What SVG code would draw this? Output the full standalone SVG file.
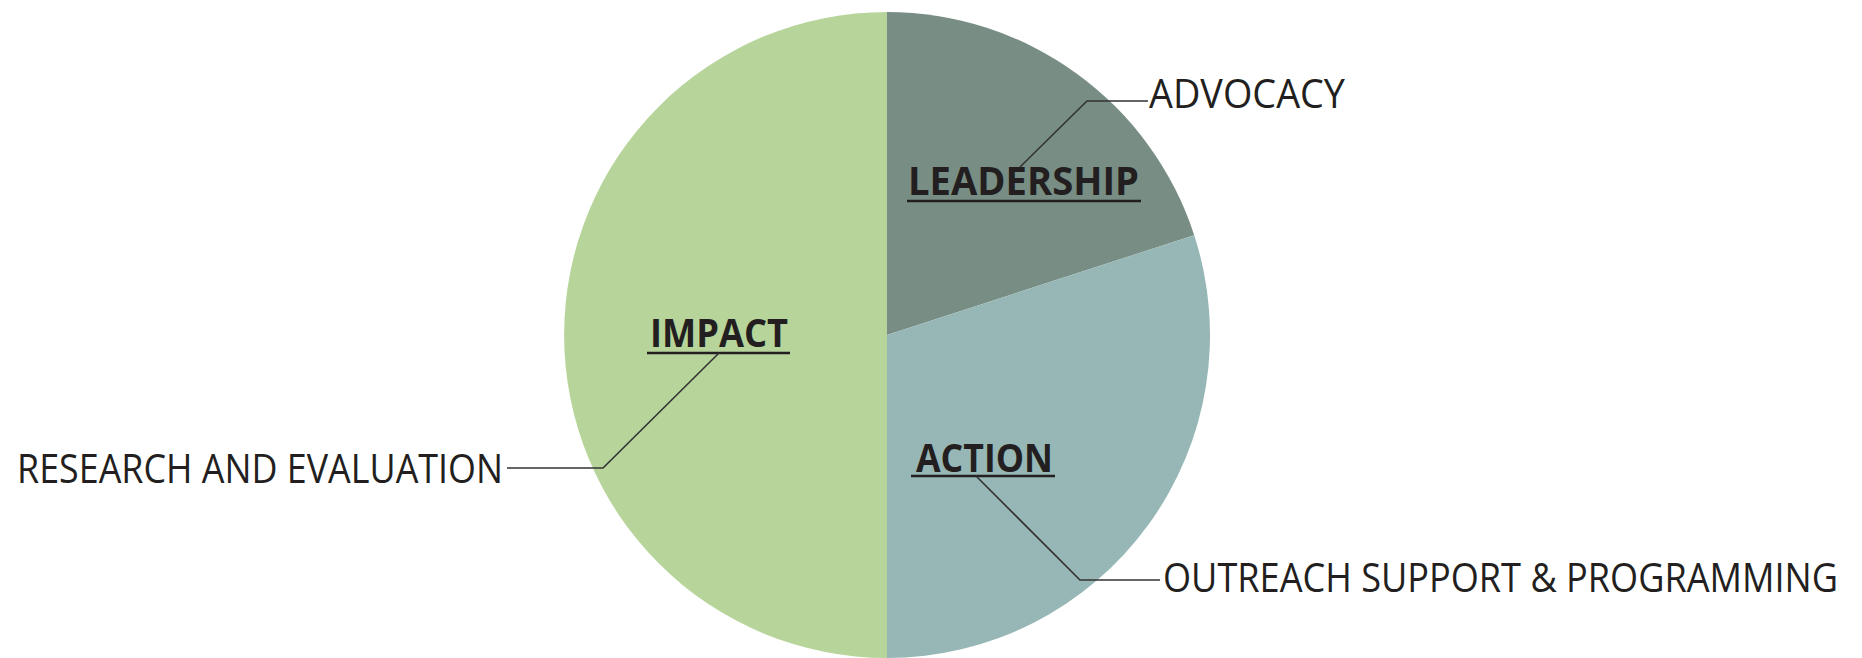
<svg xmlns="http://www.w3.org/2000/svg" width="1862" height="658" viewBox="0 0 1862 658">
  <style>
    .heading { font-family: "Open Sans", "Liberation Sans", sans-serif; font-weight: 700; font-size: 40px; fill: #231f20; }
    .label { font-family: "Open Sans", "Liberation Sans", sans-serif; font-weight: 400; font-size: 40px; fill: #231f20; }
    .underline { stroke: #231f20; stroke-width: 2.5; fill: none; }
    .leader { stroke: #333333; stroke-width: 1.6; fill: none; stroke-linejoin: miter; }
  </style>
  <rect width="1862" height="658" fill="#ffffff"/>

  <!-- pie slices: centre (887,335), radius 323 -->
  <g id="impact">
    <path d="M887,335 L887,658 A323,323 0 0 1 887,12 Z" fill="#b7d59b"/>
    <text class="heading" x="650" y="347" textLength="138" lengthAdjust="spacingAndGlyphs">IMPACT</text>
    <line class="underline" x1="647" y1="353" x2="790" y2="353"/>
  </g>
  <g id="leadership">
    <path d="M887,335 L887,12 A323,323 0 0 1 1194.2,235.2 Z" fill="#788e84"/>
    <text class="heading" x="908" y="195" textLength="231" lengthAdjust="spacingAndGlyphs">LEADERSHIP</text>
    <line class="underline" x1="907" y1="201" x2="1141" y2="201"/>
  </g>
  <g id="action">
    <path d="M887,335 L1194.2,235.2 A323,323 0 0 1 887,658 Z" fill="#96b7b6"/>
    <text class="heading" x="916" y="472" textLength="137" lengthAdjust="spacingAndGlyphs">ACTION</text>
    <line class="underline" x1="911" y1="476" x2="1055" y2="476"/>
  </g>

  <!-- outer labels -->
  <g id="advocacy">
    <text class="label" x="1149" y="108" textLength="196" lengthAdjust="spacingAndGlyphs">ADVOCACY</text>
  </g>
  <g id="research-and-evaluation">
    <text class="label" x="17" y="483" textLength="486" lengthAdjust="spacingAndGlyphs">RESEARCH AND EVALUATION</text>
  </g>
  <g id="outreach-support-programming" transform="translate(1163,592) scale(0.88,1)">
    <text class="label" x="0" y="0" textLength="767" lengthAdjust="spacingAndGlyphs">OUTREACH SUPPORT &amp; PROGRAMMING</text>
  </g>

  <!-- leader lines -->
  <g id="connectors">
    <polyline class="leader" points="1020,167 1087,101 1148,101"/>
    <polyline class="leader" points="719,353 603,468 507,468"/>
    <polyline class="leader" points="976,476 1080,580 1160,580"/>
  </g>
</svg>
